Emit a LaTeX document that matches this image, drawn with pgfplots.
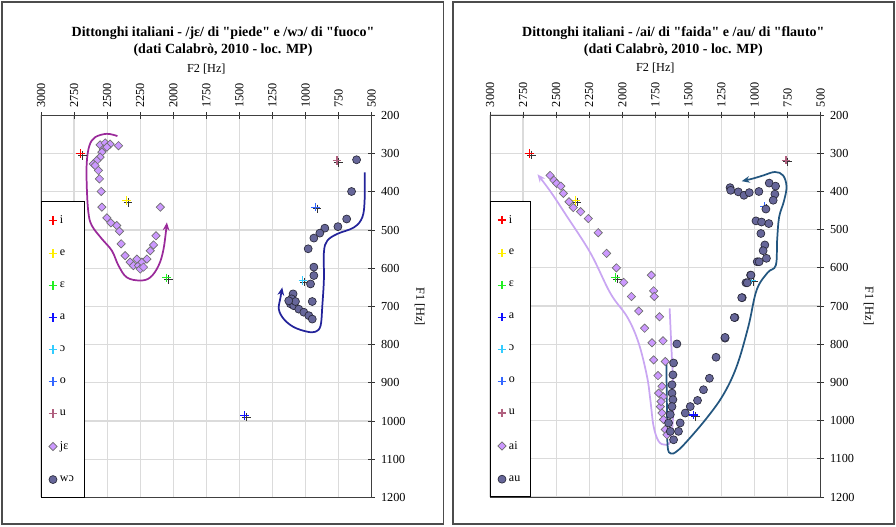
\documentclass[border=0pt]{standalone}
\usepackage{pgfplots}
\pgfplotsset{compat=1.18}
\usepackage{fontspec}
\setmainfont{Liberation Serif}
\usetikzlibrary{arrows.meta}

\definecolor{cI}{HTML}{FF0000}
\definecolor{cE}{HTML}{FFEE00}
\definecolor{cEh}{HTML}{22EE22}
\definecolor{cA}{HTML}{1010FF}
\definecolor{cOh}{HTML}{33CCFF}
\definecolor{cO}{HTML}{3366FF}
\definecolor{cU}{HTML}{B0607F}
\definecolor{diaF}{HTML}{CC99FF}
\definecolor{diaD}{HTML}{6E6E6E}
\definecolor{cirF}{HTML}{666699}
\definecolor{cirD}{HTML}{2A2A3A}
\definecolor{arrJe}{HTML}{9A2A9A}
\definecolor{arrWo}{HTML}{23239A}
\definecolor{arrAi}{HTML}{C9A6F2}
\definecolor{arrAu}{HTML}{23567F}

\pgfplotsset{
  formant/.style={
    scale only axis, width=248pt, height=286.5pt, anchor=north west,
    xmin=500, xmax=3000, ymin=200, ymax=1200,
    x dir=reverse, y dir=reverse,
    xtick={500,750,...,3000}, ytick={200,300,...,1200},
    xtick pos=right, xticklabel pos=right,
    ytick pos=right, yticklabel pos=right,
    tick align=center, major tick length=5pt,
    tick style={draw=black!80, line width=0.6pt},
    /pgf/number format/assume math mode=true,
    /pgf/number format/1000 sep={},
    tick label style={font=\fontsize{9.2}{10}\selectfont},
    xticklabel style={rotate=90, anchor=west},
    yticklabel style={xshift=1pt},
    grid=major, major grid style={draw=gray!28, line width=0.9pt},
    axis line style={draw=black!75, line width=0.6pt},
    xlabel={F2 [Hz]}, ylabel={F1 [Hz]},
    label style={font=\fontsize{9.2}{10}\selectfont},
    ylabel style={rotate=180},
    legend style={at={(0,0)}, anchor=south west, draw=black, fill=white,
      line width=0.6pt, font=\fontsize{9}{10}\selectfont, row sep=14.25pt,
      inner xsep=5.5pt, inner ysep=8.25pt},
    legend cell align=left,
    legend image code/.code={\draw[mark repeat=2,mark phase=2,##1] plot coordinates {(0cm,0cm) (0.15cm,0cm) (0.3cm,0cm)};},
  },
  vow/.style={only marks, mark=+, mark size=3.2pt, color=#1, mark options={solid, line width=0.85pt}},
  shad/.style={only marks, mark=+, mark size=3.2pt, color=black!80, mark options={solid, line width=0.6pt, xshift=1.3pt, yshift=-1.3pt}, forget plot},
  dia/.style={only marks, mark=square*, mark size=2.2pt, mark options={rotate=45, fill=diaF, draw=diaD, line width=0.5pt}},
  cir/.style={only marks, mark=*, mark size=3pt, mark options={fill=cirF, draw=cirD, line width=0.5pt}},
  arr/.style={no marks, smooth, tension=0.6, draw=#1, line width=1.3pt, -{Stealth[length=6pt,width=5pt]}, forget plot},
}

\newcommand{\vowels}{%
  \addplot[shad] coordinates {(2700,300)}; \addplot[vow=cI] coordinates {(2700,300)}; \addlegendentry{i}
  \addplot[shad] coordinates {(2355,423)}; \addplot[vow=cE] coordinates {(2355,423)}; \addlegendentry{e}
  \addplot[shad] coordinates {(2050,625)}; \addplot[vow=cEh] coordinates {(2050,625)}; \addlegendentry{ɛ}
  \addplot[shad] coordinates {(1460,985)}; \addplot[vow=cA] coordinates {(1460,985)}; \addlegendentry{a}
  \addplot[shad] coordinates {(1020,632)}; \addplot[vow=cOh] coordinates {(1020,632)}; \addlegendentry{ɔ}
  \addplot[shad] coordinates {(925,440)}; \addplot[vow=cO] coordinates {(925,440)}; \addlegendentry{o}
  \addplot[shad] coordinates {(762,318)}; \addplot[vow=cU] coordinates {(762,318)}; \addlegendentry{u}
}

\newcommand{\ttl}{\bfseries\fontsize{10.5}{12}\selectfont}
\newcommand{\q}{\textquotedbl}

\begin{document}
\begin{tikzpicture}
\path (0,0) rectangle (672pt,394.5pt);
\draw[black!70, line width=0.8pt] (1.5pt,1.5pt) rectangle (332.5pt,393pt);
\draw[black!70, line width=0.8pt] (339.75pt,1.5pt) rectangle (670.5pt,393pt);

\node[font=\ttl] at (167.25pt,369.5pt) {Dittonghi italiani - /jɛ/ di \q piede\q{} e /wɔ/ di \q fuoco\q};
\node[font=\ttl] at (167.25pt,357pt) {(dati Calabrò, 2010 - loc. MP)};
\node[font=\ttl] at (505pt,369.5pt) {Dittonghi italiani - /ai/ di \q faida\q{} e /au/ di \q flauto\q};
\node[font=\ttl] at (505pt,357pt) {(dati Calabrò, 2010 - loc. MP)};

% ---------------- left chart ----------------
\begin{axis}[formant, at={(30.75pt,307.9pt)}]
\vowels
\addplot[dia] coordinates {
(2553,277) (2515,272) (2477,275) (2414,279) (2528,288) (2502,283) (2540,296)
(2553,309) (2578,318) (2604,327) (2591,331) (2566,344) (2558,366) (2545,399)
(2540,440) (2502,468) (2472,481) (2427,488) (2407,503) (2394,536) (2364,567)
(2326,584) (2301,593) (2263,593) (2237,584) (2199,576) (2174,554) (2149,539)
(2131,515) (2098,440) (2250,602) (2225,597) (2275,576)};
\addlegendentry{jɛ}
\addplot[cir] coordinates {
(614,316) (652,399) (689,471) (755,491) (854,495) (892,508) (937,521) (980,549)
(937,597) (937,619) (962,641) (949,687) (1094,667) (1106,680) (1114,693)
(1089,698) (1051,707) (1013,715) (975,724) (949,733) (1076,687) (1127,685)};
\addlegendentry{wɔ}
\addplot[arr=arrJe] coordinates {
(2422,254) (2502,248) (2591,257) (2634,279) (2654,323) (2654,384) (2642,453)
(2616,488) (2540,523) (2464,554) (2414,593) (2351,624) (2250,632) (2174,624)
(2111,593) (2073,549) (2048,480)};
\addplot[arr=arrWo] coordinates {
(553,349) (553,419) (570,466) (634,493) (760,510) (836,528) (861,558) (861,628)
(873,698) (886,750) (924,766) (987,766) (1089,754) (1164,733) (1202,707)
(1189,676) (1176,650)};
\end{axis}

% ---------------- right chart ----------------
\begin{axis}[formant, at={(367.5pt,308.2pt)}]
\vowels
\addplot[dia] coordinates {
(2546,358) (2516,371) (2496,379) (2465,386) (2445,405) (2403,427) (2370,442)
(2315,453) (2257,471) (2182,508) (2119,562) (2044,600) (1989,638) (1931,675)
(1876,713) (1780,619) (1763,660) (1758,675) (1718,728) (1831,758) (1775,796)
(1692,791) (1763,841) (1675,845) (1730,882) (1700,910) (1692,937) (1712,963)
(1700,980) (1688,997) (1675,1023) (1662,1037) (1725,928) (1707,950)};
\addlegendentry{ai}
\addplot[cir] coordinates {
(1587,799) (1612,849) (1617,880) (1624,906) (1624,928) (1617,945) (1624,963)
(1637,984) (1650,1006) (1637,1028) (1612,1050) (1575,1028) (1562,1006)
(1524,980) (1486,963) (1431,947) (1386,919) (1341,889) (1291,834) (1223,784)
(1148,730) (1093,678) (1065,639) (1030,619) (980,584) (1185,390) (1180,397)
(1123,401) (1080,410) (1040,403) (967,400) (889,378) (841,386) (846,407)
(859,423) (914,446) (989,477) (947,480) (892,484) (952,510) (922,540)
(935,555) (910,575) (965,584) (1027,619) (1055,639) (1097,678) (1153,730)
(1223,782)};
\addlegendentry{au}
\addplot[arr=arrAi] coordinates {
(1642,706) (1624,841) (1612,928) (1617,997) (1637,1054) (1675,1063) (1725,1054)
(1763,1015) (1788,945) (1813,884) (1876,797) (1960,730) (2089,667) (2239,562)
(2415,467) (2541,401) (2641,355)};
\addplot[arr=arrAu] coordinates {
(1667,836) (1662,971) (1657,1067) (1632,1086) (1587,1080) (1511,1054) (1361,993)
(1236,932) (1135,858) (1047,754) (984,658) (900,612) (839,593) (829,527)
(814,467) (779,427) (758,388) (784,358) (846,349) (934,358) (1010,366) (1097,373)};
\end{axis}
\end{tikzpicture}
\end{document}
